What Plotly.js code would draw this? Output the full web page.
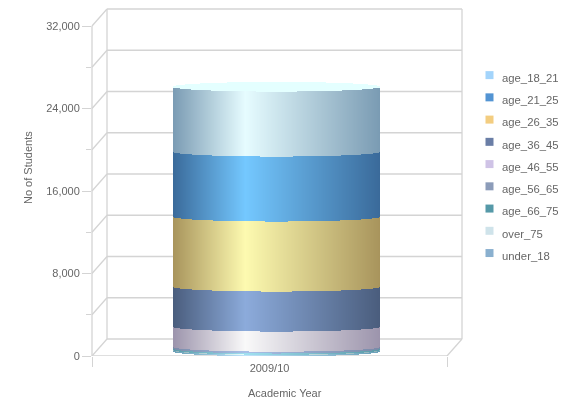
<!DOCTYPE html>
<html><head><meta charset="utf-8">
<script src="https://cdn.plot.ly/plotly-3.0.1.min.js"></script>
<style>
html,body{margin:0;padding:0;background:#fff}
#chart{width:564px;height:403px;filter:blur(0.5px)}
.legendtext{font-size:11.3px !important}
</style></head><body><div id="chart"></div>
<script>
// Data
const categories = ['2009/10'];
const age_18_21 = [6300];
const age_21_25 = [6300];
const age_26_35 = [6790];
const age_36_45 = [3880];
const age_46_55 = [1950];
const age_56_65 = [130];
const age_66_75 = [120];
const over_75 = [40];
const under_18 = [120];
const seriesNames = ['age_18_21','age_21_25','age_26_35','age_36_45','age_46_55','age_56_65','age_66_75','over_75','under_18'];
const seriesValues = [age_18_21,age_21_25,age_26_35,age_36_45,age_46_55,age_56_65,age_66_75,over_75,under_18];
const legendColors = ['#a3d4fb','#5394d3','#f3cd80','#6a7ea6','#cfc3e6','#8c9cb9','#5599a8','#cfe3ea','#8ab0cf'];
const edgeColors = ['#7a9bb3','#3a6a9a','#a8945c','#4a5d7d','#9c94ac','#7a8aa8','#5a9aa8','#90b0b8','#6aa0b8'];
const peakColors = ['#e6fcff','#74c8ff','#fdfab0','#8cabdb','#f9f9f9','#a8c0e8','#a0e0f0','#e8ffff','#bfe4fa'];
const capColor = '#e4ffff';
const yTicksMajor = [0,8000,16000,24000,32000];
const yTicksMinor = [4000,12000,20000,28000];

// Layout constants (pixels of the drawing)
const PX = {left:92,right:462,top:8,bottom:356,depthX:15,depthY:17,barLeft:173,barRight:380};
const unitsPerPx = 8000/82.5;
const plotW = PX.right-PX.left;
const frontW = plotW-PX.depthX;
const xRange = [-0.5,-0.5+plotW/frontW];
const depthY = PX.depthY*unitsPerPx;
const yTop = (PX.bottom-PX.top)*unitsPerPx;
const baseLift = 480, semi = 470, peakAt = 0.35;

function hex(c){return [1,3,5].map(i=>parseInt(c.substr(i,2),16));}
function mix(a,b,t){const A=hex(a),B=hex(b);return 'rgb('+A.map((v,i)=>Math.round(v+(B[i]-v)*t)).join(',')+')';}
function shade(edge,peak,t){return t<peakAt?mix(edge,peak,t/peakAt):mix(peak,edge,(t-peakAt)/(1-peakAt));}

const N = PX.barRight-PX.barLeft;
const strips = [...Array(N).keys()];
const stripX = strips.map(i=>((PX.barLeft+i+0.5)-PX.left)/frontW-0.5);
const stripW = 1/frontW;
const stripT = strips.map(i=>(i+0.5)/N);
const curve = stripT.map(t=>semi*Math.sqrt(1-Math.pow(2*t-1,2)));

const traces = [];
// legend entries
seriesNames.forEach((n,i)=>traces.push({type:'scatter',mode:'markers',x:[null],y:[null],name:n,
  marker:{symbol:'square',size:8,color:legendColors[i]},hoverinfo:'skip',showlegend:true}));
// stacked cylinder bands, under_18 at the bottom
let cum = baseLift;
for(let s=seriesNames.length-1;s>=0;s--){
  const v = seriesValues[s][0];
  const bottom = cum;
  traces.push({type:'bar',x:stripX,y:strips.map(()=>v),width:stripW,
    base:curve.map(c=>bottom-c),
    marker:{color:stripT.map(t=>shade(edgeColors[s],peakColors[s],t)),line:{width:0}},
    showlegend:false,hoverinfo:'skip'});
  cum += v;
}
// top cap
traces.push({type:'bar',x:stripX,y:curve.map(c=>2*c),width:stripW,base:curve.map(c=>cum-c),
  marker:{color:capColor,line:{width:0}},showlegend:false,hoverinfo:'skip'});

// 3D frame
const gc = '#d4d4d4', fx = PX.depthX/plotW, fr = frontW/plotW;
function seg(x0,y0,x1,y1){return {type:'line',xref:'x domain',yref:'y',x0,y0,x1,y1,layer:'below',line:{color:gc,width:1.3}};}
const shapes = [];
[...yTicksMajor,...yTicksMinor].forEach(v=>{
  shapes.push(seg(fx,v+depthY,1,v+depthY));
  shapes.push(seg(0,v,fx,v+depthY));
});
shapes.push(seg(fx,depthY,fx,32000+depthY));
shapes.push(seg(1,depthY,1,32000+depthY));
shapes.push(seg(0,0,0,32000));
shapes.push(seg(0,0,fr,0));
shapes.push(seg(fr,0,1,depthY));

// The x domain limits the plot so the legend never pushes it.
const marginR = 4;
const paperW = 564-PX.left-marginR;
const px2paper = p=>(p-PX.left)/paperW;

const tf = {family:'"Liberation Sans",Arial,sans-serif',size:11,color:'#666666'};
const layout = {
  width:564,height:403,paper_bgcolor:'#fff',plot_bgcolor:'rgba(0,0,0,0)',
  margin:{l:PX.left,r:marginR,t:PX.top,b:403-PX.bottom,pad:0},
  barmode:'overlay',bargap:0,font:tf,showlegend:true,
  xaxis:{domain:[0,plotW/paperW],range:xRange,showgrid:false,zeroline:false,showline:false,tickmode:'array',
    tickvals:[0],ticktext:categories,ticks:'outside',ticklen:2,tickcolor:'rgba(0,0,0,0)',tickfont:tf,
    minor:{tickmode:'array',tickvals:[-0.5,0.5],ticks:'outside',ticklen:10,tickcolor:gc,tickwidth:1.2,showgrid:false}},
  yaxis:{range:[0,yTop],showgrid:false,zeroline:false,showline:false,tickmode:'array',
    tickvals:yTicksMajor,ticktext:yTicksMajor.map(v=>v.toLocaleString('en-US')),
    ticks:'outside',ticklen:9,tickcolor:gc,tickwidth:1.2,tickfont:tf,
    minor:{tickmode:'array',tickvals:yTicksMinor,ticks:'outside',ticklen:5,tickcolor:gc,tickwidth:1.2,showgrid:false}},
  shapes,
  legend:{x:px2paper(455),xanchor:'left',y:(PX.bottom-60)/(PX.bottom-PX.top),yanchor:'top',traceorder:'normal',
    font:{family:tf.family,size:14.8,color:'#666666'},bgcolor:'rgba(0,0,0,0)',borderwidth:0},
  annotations:[
    {xref:'paper',yref:'paper',x:px2paper(285),y:(PX.bottom-393)/(PX.bottom-PX.top),text:'Academic Year',showarrow:false,font:tf,xanchor:'center',yanchor:'middle'},
    {xref:'paper',yref:'paper',x:px2paper(28),y:(PX.bottom-168)/(PX.bottom-PX.top),text:'No of Students',textangle:-90,showarrow:false,font:tf,xanchor:'center',yanchor:'middle'}
  ]
};
Plotly.newPlot('chart',traces,layout,{displayModeBar:false,responsive:false}).then(gd=>{
  gd.querySelectorAll('.legend .legendsymbols').forEach(g=>g.setAttribute('transform','translate(7.5,-1)'));
  const lg = gd.querySelector('.legend');
  const m = /translate\(([-\d.]+)[ ,]+([-\d.]+)\)/.exec(lg.getAttribute('transform'));
  lg.setAttribute('transform','translate('+(parseFloat(m[1])+7)+','+m[2]+')');
});
</script></body></html>
